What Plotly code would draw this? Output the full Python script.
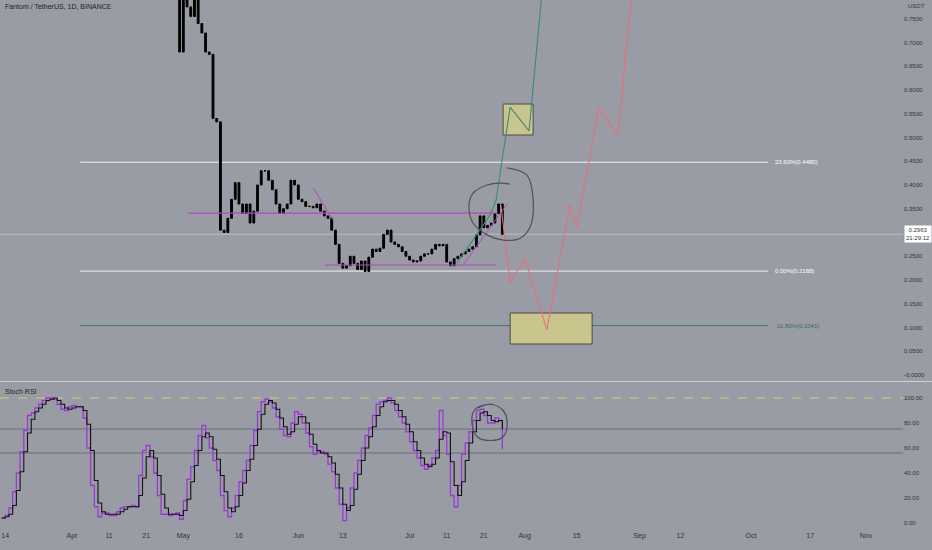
import plotly.graph_objects as go
import pandas as pd

# ---------------- data ----------------
candle_start = "2022-04-29"
first_open = 0.88
closes = [0.86, 0.68, 0.82, 0.775, 0.755, 0.82, 0.74, 0.72, 0.68, 0.675,
          0.54, 0.533, 0.305, 0.30, 0.33, 0.37, 0.405, 0.36, 0.34, 0.36,
          0.32, 0.345, 0.40, 0.43, 0.43, 0.41, 0.39, 0.36, 0.34, 0.35,
          0.36, 0.41, 0.40, 0.37, 0.365, 0.355, 0.355, 0.352, 0.36, 0.345,
          0.335, 0.33, 0.305, 0.275, 0.235, 0.225, 0.23, 0.25, 0.235, 0.222,
          0.24, 0.218, 0.248, 0.265, 0.26, 0.267, 0.296, 0.305, 0.28, 0.275,
          0.27, 0.26, 0.25, 0.242, 0.238, 0.24, 0.25, 0.255, 0.255, 0.265,
          0.275, 0.272, 0.275, 0.238, 0.23, 0.245, 0.25, 0.255, 0.26, 0.265,
          0.27, 0.295, 0.335, 0.31, 0.315, 0.32, 0.34, 0.36, 0.2963]

rsi_start = "2022-03-13"
stoch_k = [4, 6, 12, 25, 40, 57, 74, 86, 88, 92, 95, 98, 100, 100, 99, 95, 91, 90, 93, 94,
           93, 93, 84, 60, 30, 13, 5, 8, 8, 6, 6, 9, 12, 13, 13, 14, 13, 38, 58, 62,
           53, 40, 22, 7, 7, 6, 7, 8, 3, 18, 35, 45, 58, 70, 78, 68, 60, 50, 42, 22,
           10, 5, 12, 22, 33, 42, 50, 62, 74, 89, 97, 99, 97, 92, 85, 75, 70, 69, 80, 89,
           87, 80, 72, 61, 55, 57, 57, 55, 47, 41, 28, 15, 2, 12, 28, 40, 50, 60, 70, 76,
           86, 95, 97, 98, 100, 96, 90, 85, 80, 73, 65, 58, 52, 46, 43, 46, 52, 58, 90, 70,
           55, 22, 13, 30, 55, 64, 73, 82, 90, 91, 86, 80, 80, 84, 82, 59]
stoch_d = [4, 5, 7, 14, 26, 41, 57, 72, 83, 89, 92, 95, 98, 99, 100, 98, 95, 92, 91, 92,
           93, 93, 90, 79, 58, 34, 16, 9, 7, 7, 7, 7, 9, 11, 13, 13, 13, 22, 36, 53,
           58, 52, 38, 23, 12, 7, 7, 7, 6, 10, 19, 33, 46, 58, 69, 72, 69, 59, 51, 38,
           25, 12, 9, 13, 22, 32, 42, 51, 62, 75, 87, 95, 98, 96, 91, 84, 77, 71, 73, 79,
           85, 85, 80, 71, 63, 58, 56, 56, 53, 48, 39, 28, 15, 10, 14, 27, 39, 50, 60, 69,
           77, 86, 93, 97, 98, 98, 95, 90, 85, 79, 73, 65, 58, 52, 47, 45, 47, 52, 67, 73,
           72, 49, 30, 22, 33, 50, 64, 73, 82, 88, 89, 86, 82, 81, 82, 75]

# 0.3000 is hidden behind the last-price label in the reference
price_tickvals = [0.0, 0.05, 0.10, 0.15, 0.20, 0.25, 0.35, 0.40, 0.45,
                  0.50, 0.55, 0.60, 0.65, 0.70, 0.75]
price_ticktext = ["-0.0000", "0.0500", "0.1000", "0.1500", "0.2000", "0.2500",
                  "0.3500", "0.4000", "0.4500", "0.5000", "0.5500", "0.6000", "0.6500",
                  "0.7000", "0.7500"]
rsi_tickvals = [0, 20, 40, 60, 80, 100]
rsi_ticktext = ["0.00", "20.00", "40.00", "60.00", "80.00", "100.00"]
date_tickvals = ["2022-03-14", "2022-04-01", "2022-04-11", "2022-04-21", "2022-05-01",
                 "2022-05-16", "2022-06-01", "2022-06-13", "2022-07-01", "2022-07-11",
                 "2022-07-21", "2022-08-01", "2022-08-15", "2022-09-01", "2022-09-12",
                 "2022-10-01", "2022-10-17", "2022-11-01"]
date_ticktext = ["14", "Apr", "11", "21", "May", "16", "Jun", "13", "Jul", "11",
                 "21", "Aug", "15", "Sep", "12", "Oct", "17", "Nov"]

fib_levels = [0.4480, 0.2188, 0.1041]
fib_labels = ["23.60%(0.4480)", "0.00%(0.2188)", "-11.80%(0.1041)"]
last_price = 0.2963
countdown = "21:29:12"
title_text = "Fantom / TetherUS, 1D, BINANCE"

# drawings: (days after 2022-04-01, price)
draw_base = pd.Timestamp("2022-04-01")
fib_day_range = [2.2, 187.6]
fib_label_day = 189.0
magenta_h_upper = ([31.3, 114.6], [0.341, 0.341])
magenta_h_lower = ([68.2, 114.3], [0.2316, 0.2316])
magenta_diag1 = ([65.0, 70.4], [0.394, 0.326])
magenta_diag2 = ([105.4, 117.3], [0.2316, 0.360])
teal_days = [103.8, 112.7, 114.3, 118.1, 123.2, 127.0]
teal_prices = [0.236, 0.337, 0.368, 0.564, 0.514, 0.832]
red_days = [115.6, 118.1, 122.1, 128.0, 134.2, 136.1, 142.0, 147.2, 151.2]
red_prices = [0.358, 0.194, 0.246, 0.095, 0.358, 0.312, 0.564, 0.503, 0.832]
box_upper = ([116.2, 124.3], [0.5053, 0.5705])
box_lower = ([118.1, 140.2], [0.0653, 0.1305])
circle_days = [117.3, 122.6, 124.3, 123.5, 120.8, 116.2, 111.9, 108.1, 107.0, 108.1, 111.9, 115.4, 118.1]
circle_prices = [0.436, 0.421, 0.368, 0.312, 0.288, 0.284, 0.295, 0.320, 0.354, 0.383, 0.400, 0.404, 0.402]
rsi_circle_days = [109.4, 112.7, 116.2, 117.3, 116.2, 112.7, 109.2, 107.8, 108.4, 110.5, 113.7]
rsi_circle_vals = [92, 95, 90, 80, 69, 66, 69, 80, 90, 94, 95]
rsi_hlines = [75.2, 56.0]


def dday(d):
    return draw_base + pd.Timedelta(days=d)


def ddays(lst):
    return [dday(d) for d in lst]


# ---------------- figure ----------------
BG = "#999ca4"
FONT = "Liberation Sans"
W, H = 932, 550
PLOT_W = 903
PLOT_H = 530

candle_x = pd.date_range(candle_start, periods=len(closes), freq="D")
opens = [first_open] + closes[:-1]
highs = [max(o, c) for o, c in zip(opens, closes)]
lows = [min(o, c) for o, c in zip(opens, closes)]
rsi_x = pd.date_range(rsi_start, periods=len(stoch_k), freq="D")

fig = go.Figure()

fig.add_trace(go.Candlestick(
    x=candle_x, open=opens, high=highs, low=lows, close=closes,
    increasing=dict(line=dict(color="black", width=1), fillcolor="black"),
    decreasing=dict(line=dict(color="black", width=1), fillcolor="black"),
    whiskerwidth=0, xaxis="x", yaxis="y", showlegend=False, hoverinfo="skip"))

# drawings on price panel
line_specs = [
    (magenta_h_upper, "#b446c0", 1.2),
    (magenta_h_lower, "#b446c0", 1.2),
    (magenta_diag1, "#b446c0", 1.0),
    (magenta_diag2, "#b446c0", 1.0),
]
for (dx, py), col, wd in line_specs:
    fig.add_trace(go.Scatter(x=ddays(dx), y=py, mode="lines", line=dict(color=col, width=wd),
                             xaxis="x", yaxis="y", showlegend=False, hoverinfo="skip"))

fig.add_trace(go.Scatter(x=ddays(teal_days), y=teal_prices, mode="lines",
                         line=dict(color="#3a8a7c", width=1.1), xaxis="x", yaxis="y",
                         showlegend=False, hoverinfo="skip"))
fig.add_trace(go.Scatter(x=ddays(red_days), y=red_prices, mode="lines",
                         line=dict(color="#ea6f7c", width=1.1), xaxis="x", yaxis="y",
                         showlegend=False, hoverinfo="skip"))
fig.add_trace(go.Scatter(x=ddays(circle_days), y=circle_prices, mode="lines",
                         line=dict(color="#4e5358", width=1.2, shape="spline"), xaxis="x", yaxis="y",
                         showlegend=False, hoverinfo="skip"))

# stoch RSI
fig.add_trace(go.Scatter(x=rsi_x, y=stoch_k, mode="lines",
                         line=dict(color="#9a3ad6", width=1.3, shape="hv"),
                         xaxis="x2", yaxis="y2", showlegend=False, hoverinfo="skip"))
fig.add_trace(go.Scatter(x=rsi_x, y=stoch_d, mode="lines",
                         line=dict(color="#111111", width=1.1, shape="hv"),
                         xaxis="x2", yaxis="y2", showlegend=False, hoverinfo="skip"))
fig.add_trace(go.Scatter(x=ddays(rsi_circle_days), y=rsi_circle_vals, mode="lines",
                         line=dict(color="#4e5358", width=1.2, shape="spline"), xaxis="x2", yaxis="y2",
                         showlegend=False, hoverinfo="skip"))

shapes = []
# current price line
shapes.append(dict(type="line", xref="paper", yref="y", x0=0, x1=1, y0=last_price, y1=last_price,
                   line=dict(color="#b9bcc2", width=1), layer="below"))
# fib lines
fib_colors = ["#f2f2f2", "#f2f2f2", "#3c7d6e"]
for lvl, col in zip(fib_levels, fib_colors):
    shapes.append(dict(type="line", xref="x", yref="y", x0=dday(fib_day_range[0]), x1=dday(fib_day_range[1]),
                       y0=lvl, y1=lvl, line=dict(color=col, width=1), layer="below"))
# boxes
for (dx, py) in (box_upper, box_lower):
    shapes.append(dict(type="rect", xref="x", yref="y", x0=dday(dx[0]), x1=dday(dx[1]),
                       y0=py[0], y1=py[1], fillcolor="#c9c58c", line=dict(color="#4a4a4a", width=1),
                       layer="below"))
# panel separator
sep_y = 1 - 381.5 / PLOT_H
shapes.append(dict(type="line", xref="paper", yref="paper", x0=0, x1=W / PLOT_W, y0=sep_y, y1=sep_y,
                   line=dict(color="#cfd1d6", width=1)))
# stoch rsi levels
shapes.append(dict(type="line", xref="paper", yref="y2", x0=0, x1=1, y0=100, y1=100,
                   line=dict(color="#cfd07a", width=1, dash="dash"), layer="below"))
for v in rsi_hlines:
    shapes.append(dict(type="line", xref="paper", yref="y2", x0=0, x1=1, y0=v, y1=v,
                       line=dict(color="#6c6f76", width=1), layer="below"))

annotations = []
annotations.append(dict(text=title_text, xref="paper", yref="paper", x=0.003, y=1 - 7 / PLOT_H,
                        xanchor="left", yanchor="middle", showarrow=False,
                        font=dict(family=FONT, size=7, color="#222222")))
annotations.append(dict(text="Stoch RSI", xref="paper", yref="paper", x=0.003, y=1 - 391 / PLOT_H,
                        xanchor="left", yanchor="middle", showarrow=False,
                        font=dict(family=FONT, size=7, color="#222222")))
annotations.append(dict(text="USDT", xref="paper", yref="paper", x=906 / PLOT_W, y=1 - 6 / PLOT_H,
                        xanchor="left", yanchor="middle", showarrow=False,
                        font=dict(family=FONT, size=6, color="#3a3a3a")))
fib_text_colors = ["#ffffff", "#ffffff", "#2f6f60"]
for lvl, txt, col in zip(fib_levels, fib_labels, fib_text_colors):
    annotations.append(dict(text=txt, xref="x", yref="y", x=dday(fib_label_day), y=lvl,
                            xanchor="left", yanchor="middle", showarrow=False,
                            font=dict(family=FONT, size=6, color=col)))
annotations.append(dict(text=f"{last_price:.4f}<br>{countdown}", xref="paper", yref="y",
                        x=904 / PLOT_W, y=last_price, xanchor="left", yanchor="middle",
                        showarrow=False, bgcolor="#ffffff", borderpad=1,
                        font=dict(family=FONT, size=6, color="#333333")))

x_range = [pd.Timestamp("2022-03-12 14:00"), pd.Timestamp("2022-11-11 00:00")]
price_dom = [1 - 380 / PLOT_H, 1]
rsi_dom = [0, 1 - 385 / PLOT_H]

fig.update_layout(
    width=W, height=H,
    margin=dict(l=0, r=W - PLOT_W, t=0, b=H - PLOT_H),
    paper_bgcolor=BG, plot_bgcolor=BG,
    font=dict(family=FONT, size=7, color="#333333"),
    hovermode=False, showlegend=False,
    shapes=shapes, annotations=annotations,
    xaxis=dict(domain=[0, 1], anchor="y", range=x_range, type="date", showgrid=False,
               showticklabels=False, zeroline=False, showline=False, rangeslider=dict(visible=False)),
    xaxis2=dict(domain=[0, 1], anchor="y2", range=x_range, type="date", matches="x", showgrid=False,
                tickmode="array", tickvals=date_tickvals, ticktext=date_ticktext, ticks="",
                tickfont=dict(size=7, color="#333333"), zeroline=False, showline=False),
    yaxis=dict(domain=price_dom, anchor="x", side="right", range=[-0.0105, 0.7895], showgrid=False,
               zeroline=False, tickmode="array", tickvals=price_tickvals, ticktext=price_ticktext,
               ticks="", tickfont=dict(size=6, color="#333333"), showline=False),
    yaxis2=dict(domain=rsi_dom, anchor="x2", side="right", range=[-5.6, 110.4], showgrid=False,
                zeroline=False, tickmode="array", tickvals=rsi_tickvals, ticktext=rsi_ticktext,
                ticks="", tickfont=dict(size=6, color="#333333"), showline=False),
)

fig.write_html("out.html", config={"displayModeBar": False},
               post_script="document.body.style.margin='0';document.body.style.background='%s';" % BG)
